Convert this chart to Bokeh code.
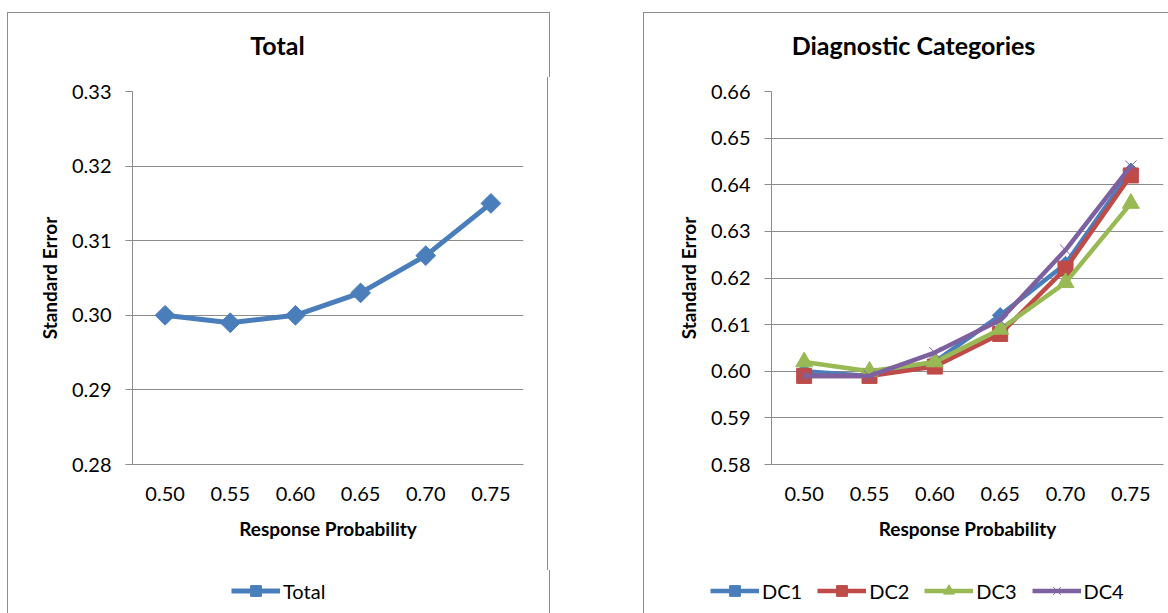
from bokeh.plotting import figure
from bokeh.models import Range1d, FactorRange, FixedTicker, PrintfTickFormatter, Legend, LegendItem, Label
from bokeh.layouts import row, column
from bokeh.embed import file_html
from bokeh.resources import INLINE
import math

categories = ["0.50", "0.55", "0.60", "0.65", "0.70", "0.75"]
total = [0.300, 0.299, 0.300, 0.303, 0.308, 0.315]
dc1 = [0.600, 0.599, 0.602, 0.612, 0.623, 0.643]
dc2 = [0.599, 0.599, 0.601, 0.608, 0.622, 0.642]
dc3 = [0.602, 0.600, 0.602, 0.609, 0.619, 0.636]
dc4 = [0.599, 0.599, 0.604, 0.611, 0.626, 0.644]
left_ticks = [0.28, 0.29, 0.30, 0.31, 0.32, 0.33]
right_ticks = [0.58, 0.59, 0.60, 0.61, 0.62, 0.63, 0.64, 0.65, 0.66]

FONT = "Lato"
GRID = "#8c8c8c"
BORDER = "#8c8c8c"
B = f"1px solid {BORDER}"


def make_fig(ticks, width, left, right):
    p = figure(x_range=FactorRange(*categories), y_range=Range1d(ticks[0], ticks[-1]),
               width=width, height=493, output_backend="svg", toolbar_location=None,
               min_border_left=left, min_border_right=right, min_border_top=14,
               min_border_bottom=106)
    p.outline_line_color = None
    p.xgrid.grid_line_color = None
    p.ygrid.grid_line_color = GRID
    p.ygrid.grid_line_width = 1
    p.yaxis.ticker = FixedTicker(ticks=ticks)
    p.yaxis.formatter = PrintfTickFormatter(format="%.2f")
    p.yaxis.axis_line_color = GRID
    p.yaxis.major_tick_line_color = GRID
    p.yaxis.major_tick_out = 7
    p.yaxis.major_tick_in = 0
    p.yaxis.minor_tick_line_color = None
    p.yaxis.major_label_standoff = 14
    p.yaxis.axis_label = "Standard Error"
    p.yaxis.axis_label_standoff = 8
    p.xaxis.axis_line_color = GRID
    p.xaxis.major_tick_line_color = None
    p.xaxis.minor_tick_line_color = None
    p.xaxis.major_label_standoff = 16
    p.xaxis.axis_label = "Response Probability"
    p.xaxis.axis_label_standoff = 13
    for ax in (p.xaxis, p.yaxis):
        ax.major_label_text_font = FONT
        ax.major_label_text_font_size = "20px"
        ax.major_label_text_color = "#000000"
        ax.axis_label_text_font = FONT
        ax.axis_label_text_font_size = "19px"
        ax.axis_label_text_font_style = "bold"
        ax.axis_label_text_color = "#000000"
    return p


def strip(width, height, y_range):
    # fixed-size frame strip (title / legend band of the chart box)
    q = figure(frame_width=width, frame_height=height, x_range=FactorRange(*categories),
               y_range=y_range, output_backend="svg", toolbar_location=None,
               x_axis_location=None, y_axis_location=None,
               min_border_left=0, min_border_right=0, min_border_top=0, min_border_bottom=0)
    q.grid.visible = False
    q.outline_line_color = None
    return q


def title_strip(width, text, cx):
    q = strip(width, 64, Range1d(10, 11))
    q.add_layout(Label(x=cx, y=34, x_units="screen", y_units="screen", text=text,
                       text_align="center", text_baseline="middle", text_font=FONT,
                       text_font_size="25px", text_font_style="bold", text_color="#000000"))
    return q


def add_series(chart, leg, vals, col, mk, sz, ang, lw):
    chart.line(categories, vals, line_color=col, line_width=lw)
    if mk == "x":
        chart.scatter(categories, vals, marker=mk, size=sz, line_color=col, line_width=1)
    else:
        chart.scatter(categories, vals, marker=mk, size=sz, angle=ang,
                      fill_color=col, line_color=col)
    # legend key renderers: the strip's y range lies above every value, so they draw nothing there
    lr = leg.line(categories, vals, line_color=col, line_width=lw)
    if mk == "x":
        sr = leg.scatter(categories, vals, marker=mk, size=sz, line_color=col, line_width=1)
    else:
        sr = leg.scatter(categories, vals, marker=mk, size=sz, angle=ang,
                         fill_color=col, line_color=col)
    return [lr, sr]


def make_legend(items, x, spacing):
    return Legend(items=items, orientation="horizontal", location=(x, 10),
                  border_line_color=None, background_fill_alpha=0,
                  label_text_font=FONT, label_text_font_size="20px", label_text_color="#000000",
                  glyph_width=49, glyph_height=27, label_standoff=3,
                  padding=0, spacing=spacing, margin=0)


# Left chart box
t1 = title_strip(541, "Total", 145)
t1.margin = (12, 0, 0, 7)
t1.styles = {"border-left": B, "border-top": B, "border-right": B}
p1 = make_fig(left_ticks, 541, 124, 26)
p1.margin = (0, 0, 0, 7)
p1.styles = {"border-left": B, "border-right": B}
l1 = strip(541, 44, Range1d(10, 11))
l1.margin = (0, 0, 0, 7)
l1.styles = {"border-left": B, "border-right": B}
r = add_series(p1, l1, total, "#4A7EBB", "square", 14, math.pi / 4, 5)
l1.add_layout(make_legend([LegendItem(label="Total", renderers=r)], 223, 20), "center")

# Right chart box
t2 = title_strip(527, "Diagnostic Categories", 142)
t2.margin = (12, 0, 0, 93)
t2.styles = {"border-left": B, "border-top": B}
p2 = make_fig(right_ticks, 527, 127, 8)
p2.margin = (0, 0, 0, 93)
p2.styles = {"border-left": B}
l2 = strip(527, 44, Range1d(10, 11))
l2.margin = (0, 0, 0, 93)
l2.styles = {"border-left": B}
series = [("DC1", dc1, "#4A7EBB", "square", 11, math.pi / 4),
          ("DC2", dc2, "#BE4B48", "square", 15, 0),
          ("DC3", dc3, "#98B954", "triangle", 17, 0),
          ("DC4", dc4, "#7D60A0", "x", 16, 0)]
items = []
for name, vals, col, mk, sz, ang in series:
    r = add_series(p2, l2, vals, col, mk, sz, ang, 4.5)
    items.append(LegendItem(label=name, renderers=r))
l2.add_layout(make_legend(items, 66, 15), "center")

layout = row(column(t1, p1, l1), column(t2, p2, l2))
open("out.html", "w").write(file_html(layout, INLINE))
